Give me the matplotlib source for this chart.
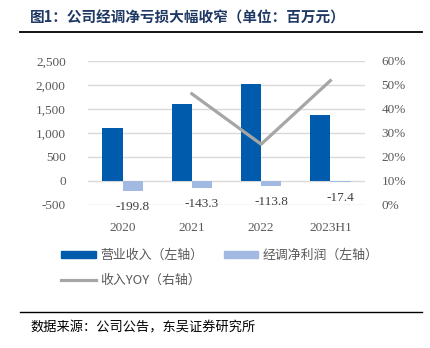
import matplotlib
matplotlib.use("Agg")
import matplotlib.pyplot as plt
import numpy as np
from matplotlib.lines import Line2D
from matplotlib.patches import Patch

plt.rcParams['font.family'] = ['Liberation Serif', 'Noto Sans CJK SC', 'DejaVu Sans']

# données
periods = ["2020", "2021", "2022", "2023H1"]
revenue = [1098, 1611, 2027, 1375]
adj_net = [-199.8, -143.3, -113.8, -17.4]
yoy_periods = ["2021", "2022", "2023H1"]
yoy = [46.3, 25.3, 51.8]
left_ticks = [-500, 0, 500, 1000, 1500, 2000, 2500]
right_ticks = [0, 10, 20, 30, 40, 50, 60]

dark_blue = "#005BAC"
light_blue = "#A2B9E2"
grey_line = "#A6A6A6"
txt = "#595959"
cjk = ['Noto Sans CJK SC', 'DejaVu Sans']

fig = plt.figure(figsize=(4.31, 3.48), dpi=100)
ax = fig.add_axes([0.204, 0.411, 0.643, 0.414])
x = np.arange(len(periods))
w = 0.29
ax.bar(x - w/2, revenue, w, color=dark_blue, zorder=3)
ax.bar(x + w/2, adj_net, w, color=light_blue, zorder=3)
for xi, v in zip(x, adj_net):
    ax.annotate(f"{v:.1f}", (xi + w/2, v), xytext=(0, -11.5), textcoords="offset points",
                ha="center", va="center", fontsize=9.5, color="#404040")

ax.set_xlim(-0.5, len(periods) - 0.5)
ax.set_ylim(-500, 2500)
ax.set_yticks(left_ticks)
ax.set_yticklabels([f"{t:,}" for t in left_ticks])
ax.set_xticks(x)
ax.set_xticklabels(periods)
ax.grid(axis="y", color="#D9D9D9", linewidth=1, zorder=0)
ax.tick_params(axis="both", length=0, labelsize=9.5, colors=txt)
ax.tick_params(axis="y", pad=16)
ax.tick_params(axis="x", pad=12)
for s in ax.spines.values():
    s.set_visible(False)

ax2 = ax.twinx()
ax2.plot([periods.index(p) for p in yoy_periods], yoy, color=grey_line, linewidth=2.3, zorder=4)
ax2.set_ylim(0, 60)
ax2.set_yticks(right_ticks)
ax2.set_yticklabels([f"{t}%" for t in right_ticks])
ax2.tick_params(axis="y", length=0, labelsize=9.5, colors=txt, pad=12)
for s in ax2.spines.values():
    s.set_visible(False)

# titre + traits
fig.text(0.07, 0.951, "图1：公司经调净亏损大幅收窄（单位：百万元）", fontsize=10.5,
         fontweight="bold", color="#1F3864", family=cjk, va="center")
fig.add_artist(Line2D([0.047, 0.979], [0.908, 0.908], color="black", linewidth=1.3))
fig.add_artist(Line2D([0.047, 0.979], [0.103, 0.103], color="black", linewidth=1.0))
fig.text(0.07, 0.057, "数据来源：公司公告，东吴证券研究所", fontsize=9.5, color="black",
         family=cjk, va="center")

# légende (ordre rangée par rangée)
handles = [Patch(color=dark_blue), Line2D([], [], color=grey_line, linewidth=2.3),
           Patch(color=light_blue)]
labels = ["营业收入（左轴）", "收入YOY（右轴）", "经调净利润（左轴）"]
leg = fig.legend(handles, labels, loc="upper left", bbox_to_anchor=(0.115, 0.318), ncol=2,
                 frameon=False, prop={'family': cjk, 'size': 9.3}, handlelength=2.7,
                 handleheight=0.5, handletextpad=0.3, columnspacing=1.6, labelspacing=0.95)
for t in leg.get_texts():
    t.set_color(txt)

fig.savefig("out.png", dpi=100)
